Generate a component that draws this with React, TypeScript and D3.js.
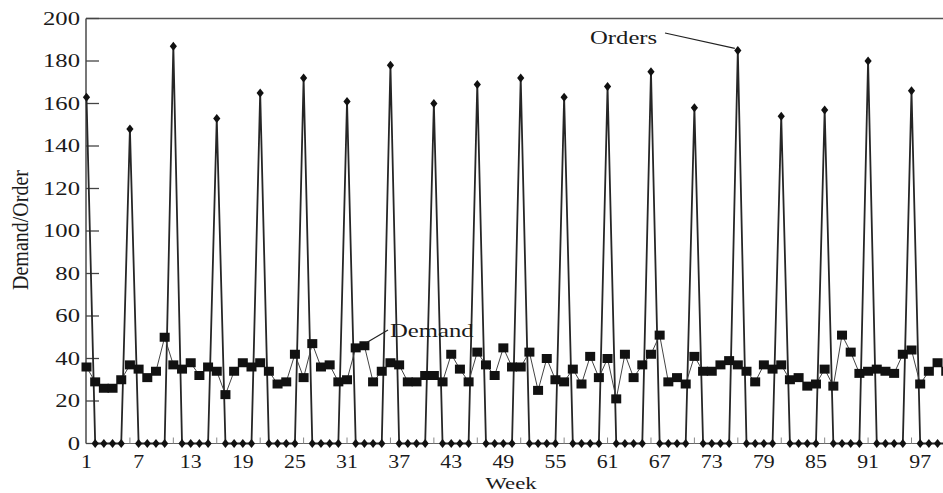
import * as d3 from 'd3';

// weekly values
const weeks = d3.range(1, 101);

const orders = [
    163, 0, 0, 0, 0, 148, 0, 0, 0, 0,
    187, 0, 0, 0, 0, 153, 0, 0, 0, 0,
    165, 0, 0, 0, 0, 172, 0, 0, 0, 0,
    161, 0, 0, 0, 0, 178, 0, 0, 0, 0,
    160, 0, 0, 0, 0, 169, 0, 0, 0, 0,
    172, 0, 0, 0, 0, 163, 0, 0, 0, 0,
    168, 0, 0, 0, 0, 175, 0, 0, 0, 0,
    158, 0, 0, 0, 0, 185, 0, 0, 0, 0,
    154, 0, 0, 0, 0, 157, 0, 0, 0, 0,
    180, 0, 0, 0, 0, 166, 0, 0, 0, 0,
];

const demand = [
    36, 29, 26, 26, 30, 37, 35, 31, 34, 50,
    37, 35, 38, 32, 36, 34, 23, 34, 38, 36,
    38, 34, 28, 29, 42, 31, 47, 36, 37, 29,
    30, 45, 46, 29, 34, 38, 37, 29, 29, 32,
    32, 29, 42, 35, 29, 43, 37, 32, 45, 36,
    36, 43, 25, 40, 30, 29, 35, 28, 41, 31,
    40, 21, 42, 31, 37, 42, 51, 29, 31, 28,
    41, 34, 34, 37, 39, 37, 34, 29, 37, 35,
    37, 30, 31, 27, 28, 35, 27, 51, 43, 33,
    34, 35, 34, 33, 42, 44, 28, 34, 38, 34,
];

const yTicks = [0, 20, 40, 60, 80, 100, 120, 140, 160, 180, 200];
const xLabels = [1, 7, 13, 19, 25, 31, 37, 43, 49, 55, 61, 67, 73, 79, 85, 91, 97];
const xMinorTicks = [6, 11, 16, 21, 26, 31, 36, 41, 46, 51, 56, 61, 66, 71, 76, 81, 86, 91, 96];

const W = 943;
const H = 493;
const FONT = '"Liberation Serif", "Times New Roman", serif';

export default function App() {
    const x = d3.scaleLinear().domain([1, 96]).range([86.5, 911.5]);
    const y = d3.scaleLinear().domain([0, 200]).range([443.5, 18.5]);
    const left = x(1) - 0.5;
    const top = y(200);
    const bottom = y(0);

    const orderPts = weeks.map((w, i) => [x(w), y(orders[i])] as [number, number]);
    const demandPts = weeks.map((w, i) => [x(w), y(demand[i])] as [number, number]);
    const line = d3.line();

    const peak = orderPts[75];
    const dem33 = demandPts[32];

    return (
        <svg
            width={W}
            height={H}
            viewBox={`0 0 ${W} ${H}`}
            style={{ position: 'absolute', left: 0, top: 0, background: '#fff' }}
        >
            {/* frame */}
            <line x1={left} x2={W + 5} y1={top} y2={top} stroke="#555" strokeWidth={1.6} />
            <line x1={left} x2={left} y1={top} y2={bottom} stroke="#555" strokeWidth={1.6} />
            <line x1={left} x2={W + 5} y1={bottom} y2={bottom} stroke="#666" strokeWidth={1.2} />

            {/* y axis */}
            {yTicks.map((t) => (
                <g key={t}>
                    <line x1={left} x2={left + 13} y1={y(t)} y2={y(t)} stroke="#444" strokeWidth={1.3} />
                    <text
                        transform={`translate(80, ${y(t) + 6}) scale(1.3, 1)`}
                        textAnchor="end"
                        fontFamily={FONT}
                        fontSize={19}
                        fill="#1a1a1a"
                    >
                        {t}
                    </text>
                </g>
            ))}

            {/* x axis */}
            {xMinorTicks.map((t) => (
                <line key={t} x1={x(t)} x2={x(t)} y1={bottom} y2={bottom - 6} stroke="#888" strokeWidth={1} />
            ))}
            {xLabels.map((t) => (
                <text
                    key={t}
                    transform={`translate(${x(t)}, 468) scale(1.15, 1)`}
                    textAnchor="middle"
                    fontFamily={FONT}
                    fontSize={19}
                    fill="#1a1a1a"
                >
                    {t}
                </text>
            ))}
            <text
                transform="translate(511, 489) scale(1.3, 1)"
                textAnchor="middle"
                fontFamily={FONT}
                fontSize={17.5}
                fill="#1a1a1a"
            >
                Week
            </text>
            <text
                transform="translate(28, 230) rotate(-90) scale(1, 1.15)"
                textAnchor="middle"
                fontFamily={FONT}
                fontSize={20}
                fill="#1a1a1a"
            >
                Demand/Order
            </text>

            {/* orders */}
            <path d={line(orderPts) ?? ''} fill="none" stroke="#262626" strokeWidth={1.8} />
            {/* demand */}
            <path d={line(demandPts) ?? ''} fill="none" stroke="#444" strokeWidth={1} />

            {orderPts.map(([px, py], i) => (
                <path
                    key={`o${i}`}
                    d={`M${px},${py - 4.5}L${px + 3.6},${py}L${px},${py + 4.5}L${px - 3.6},${py}Z`}
                    fill="#111"
                />
            ))}
            {demandPts.map(([px, py], i) => (
                <rect key={`d${i}`} x={px - 5} y={py - 4.5} width={10} height={9} fill="#111" />
            ))}

            {/* annotations */}
            <text
                transform="translate(590, 44) scale(1.3, 1)"
                fontFamily={FONT}
                fontSize={19}
                fill="#1a1a1a"
            >
                Orders
            </text>
            <line x1={665} y1={33} x2={peak[0] - 3} y2={peak[1] - 2} stroke="#222" strokeWidth={1.2} />
            <text
                transform="translate(390, 337) scale(1.3, 1)"
                fontFamily={FONT}
                fontSize={19}
                fill="#1a1a1a"
            >
                Demand
            </text>
            <line x1={388} y1={330} x2={dem33[0] + 2} y2={dem33[1] - 3} stroke="#222" strokeWidth={1.2} />
        </svg>
    );
}
